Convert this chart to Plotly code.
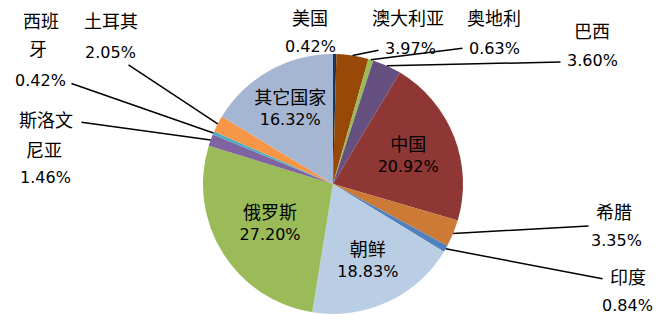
import math
import plotly.graph_objects as go

countries = ["美国", "澳大利亚", "奥地利", "巴西", "中国", "希腊", "印度",
             "朝鲜", "俄罗斯", "斯洛文尼亚", "西班牙", "土耳其", "其它国家"]
name_lines = [["美国"], ["澳大利亚"], ["奥地利"], ["巴西"], ["中国"], ["希腊"], ["印度"],
              ["朝鲜"], ["俄罗斯"], ["斯洛文", "尼亚"], ["西班", "牙"], ["土耳其"], ["其它国家"]]
shares = [0.42, 3.97, 0.63, 3.60, 20.92, 3.35, 0.84,
          18.83, 27.20, 1.46, 0.42, 2.05, 16.32]
colors = ["#17375E", "#984807", "#9BBB59", "#65507F", "#8E3735", "#CC7A35", "#4F81BD",
          "#B9CDE5", "#9BBB59", "#8064A2", "#4BACC6", "#F79646", "#A5B6D3"]
inside = ["中国", "朝鲜", "俄罗斯", "其它国家"]

W, H = 668, 330
FONT = "'DejaVu Sans', 'Noto Sans CJK SC', sans-serif"
NUM_SIZE = 16
CJK_SIZE = 18

# pie placement (pixels)
CX, CY, R = 333, 184, 130
dom_x = [(CX - R) / W, (CX + R) / W]
dom_y = [1 - (CY + R) / H, 1 - (CY - R) / H]


def cjk(s):
    return f"<span style='font-size:{CJK_SIZE}px'>{s}</span>"


texts = [("<br>".join(cjk(s) for s in nl) + f"<br>{v:.2f}%") if c in inside else ""
         for nl, v, c in zip(name_lines, shares, countries)]

fig = go.Figure(go.Pie(
    labels=countries,
    values=shares,
    sort=False,
    direction="clockwise",
    rotation=0,
    marker=dict(colors=colors, line=dict(width=0)),
    text=texts,
    textinfo="text",
    textposition="inside",
    insidetextorientation="horizontal",
    textfont=dict(family=FONT, size=NUM_SIZE, color="#000000"),
    domain=dict(x=dom_x, y=dom_y),
    showlegend=False,
    hoverinfo="label+value",
))

# outside labels: centre of each text line (pixels) and the tail point of the leader line
label_layout = {
    "美国": ([(310, 18), (310, 46)], None),
    "澳大利亚": ([(408, 18), (410, 48)], (380, 50)),
    "奥地利": ([(494, 18), (494, 48)], (464, 48)),
    "巴西": ([(592, 32), (592, 60)], (562, 62)),
    "希腊": ([(614, 212), (616, 240)], (590, 226)),
    "印度": ([(628, 277), (627, 305)], (604, 279)),
    "斯洛文尼亚": ([(46, 120), (44, 150), (45, 177)], (80, 122)),
    "西班牙": ([(41, 22), (38, 50), (40, 80)], (70, 83)),
    "土耳其": ([(111, 22), (110, 52)], (127, 64)),
}

total = sum(shares)
cum = 0.0
for name, nl, v in zip(countries, name_lines, shares):
    mid = (cum + v / 2) / total * 2 * math.pi
    cum += v
    if name not in label_layout:
        continue
    line_pos, tail = label_layout[name]
    strings = [cjk(s) for s in nl] + [f"{v:.2f}%"]
    for (tx, ty), s in zip(line_pos, strings):
        fig.add_annotation(
            x=tx / W, y=1 - ty / H, xref="paper", yref="paper",
            text=s, showarrow=False,
            xanchor="center", yanchor="middle",
            font=dict(family=FONT, size=NUM_SIZE, color="#000000"),
        )
    if tail is not None:
        px = CX + R * math.sin(mid)
        py = CY - R * math.cos(mid)
        fig.add_annotation(
            x=px / W, y=1 - py / H, xref="paper", yref="paper",
            ax=tail[0] - px, ay=tail[1] - py, axref="pixel", ayref="pixel",
            text="", showarrow=True,
            arrowhead=0, arrowwidth=1.5, arrowcolor="#000000",
            standoff=0, startstandoff=0,
        )

fig.update_layout(
    width=W, height=H,
    margin=dict(l=0, r=0, t=0, b=0),
    paper_bgcolor="white",
    plot_bgcolor="white",
    font=dict(family=FONT, size=NUM_SIZE, color="#000000"),
)

fig.write_html("out.html")
